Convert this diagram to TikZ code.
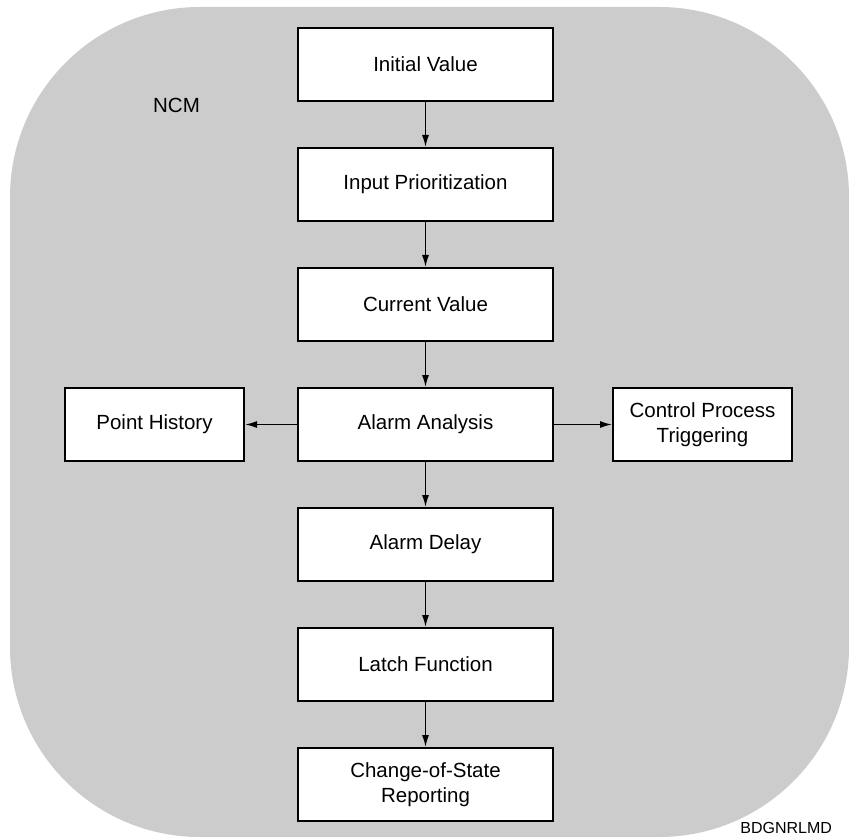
\documentclass[tikz,border=0pt]{standalone}
\usepackage{fontspec}
\setmainfont{Liberation Sans}
\usetikzlibrary{
    arrows.meta,
    positioning
}
\definecolor{ncmgray}{HTML}{CCCCCC}

\begin{document}
\begin{tikzpicture}[
    node distance=22.5pt and 26pt,
    font=\fontsize{10.25}{12.5}\selectfont,
    stage/.style={
      draw,
      fill=white,
      line width=1pt,
      align=center,
      minimum width=127.5pt,
      minimum height=36.5pt
    },
    sidestage/.style={
      stage,
      minimum width=89.5pt
    },
    flow/.style={
      -{Latex[length=6pt,width=3.5pt]},
      line width=0.75pt
    }
  ]

  \useasboundingbox (0,0) rectangle (424.5pt,-419.5pt);

  % NCM area {{{
  \fill[ncmgray, rounded corners=95pt] (5pt,-3.5pt) rectangle (424.5pt,-418.5pt);
  \node[anchor=base] (ncm) at (88.25pt,-56.5pt) {NCM};
  % }}}

  % main chain {{{
  \node[stage] (init) at (212.75pt,-32.25pt) {Initial Value};
  \node[stage, below=of init] (prio) {Input Prioritization};
  \node[stage, below=of prio] (current) {Current Value};
  \node[stage, below=of current] (analysis) {Alarm Analysis};
  \node[stage, below=of analysis] (delay) {Alarm Delay};
  \node[stage, below=of delay] (latch) {Latch Function};
  \node[stage, below=of latch] (cos) {Change-of-State\\Reporting};
  % }}}

  % side branches {{{
  \node[sidestage, left=of analysis] (history) {Point History};
  \node[sidestage, right=29pt of analysis] (control) {Control Process\\Triggering};
  % }}}

  % arrows {{{
  \draw[flow] (init) -- (prio);
  \draw[flow] (prio) -- (current);
  \draw[flow] (current) -- (analysis);
  \draw[flow] (analysis) -- (delay);
  \draw[flow] (delay) -- (latch);
  \draw[flow] (latch) -- (cos);
  \draw[flow] (analysis) -- (history);
  \draw[flow] (analysis) -- (control);
  % }}}

  \node[anchor=base east, font=\fontsize{8}{10}\selectfont] (tag)
    at (419.5pt,-416.5pt) {BDGNRLMD};

\end{tikzpicture}
\end{document}
